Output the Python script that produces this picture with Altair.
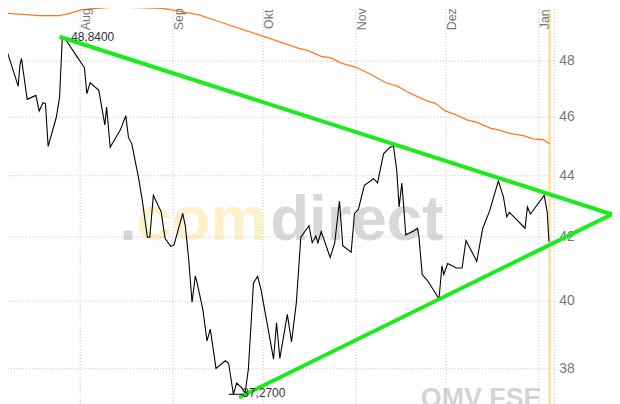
import altair as alt
import pandas as pd

# ---- data (x = days relative to 1 Aug, y = price) ----
price_day = [-24.5, -20.7, -20.1, -19.6, -17.7, -14.8, -13.7, -12.4, -11.6, -10.7,
             -8.0, -6.9, -6.0, -4.9, -0.8, 0.7, 1.4, 2.2, 3.3, 6.2,
             7.0, 8.2, 8.8, 10.0, 13.4, 15.2, 16.1, 17.2, 19.4, 20.7,
             22.4, 23.2, 24.4, 27.0, 28.3, 30.2, 31.3, 34.2, 35.1, 36.2,
             37.3, 38.4, 39.0, 40.9, 42.3, 43.4, 45.3, 48.4, 49.5, 51.1,
             52.2, 53.9, 55.0, 56.1, 57.8, 59.2, 60.3, 62.7, 64.5, 65.5,
             66.6, 69.1, 70.5, 72.1, 73.6, 76.3, 77.4, 78.6, 79.3, 80.4,
             83.4, 84.9, 86.5, 87.6, 90.4, 91.5, 92.8, 94.8, 97.9, 99.2,
             101.2, 103.1, 104.5, 105.6, 106.4, 107.3, 108.1, 108.6, 111.4, 112.5,
             113.0, 114.1, 115.8, 119.7, 120.7, 121.3, 122.6, 125.5, 127.4, 128.7,
             132.3, 134.3, 136.6, 139.5, 141.2, 142.3, 143.2, 148.4, 149.2, 150.2,
             154.8, 155.8, 156.4]
price_val = [48.39, 47.10, 47.88, 48.10, 46.63, 46.77, 46.22, 46.51, 46.48, 44.99,
             45.99, 46.69, 48.84, 48.80, 48.12, 47.88, 47.76, 46.83, 47.22, 46.95,
             46.46, 45.73, 46.36, 44.96, 45.56, 46.05, 45.30, 45.08, 43.96, 43.19,
             41.99, 41.99, 43.35, 42.81, 41.96, 41.70, 41.75, 42.76, 42.33, 41.28,
             39.97, 40.78, 40.56, 39.75, 38.81, 39.16, 38.01, 38.23, 38.16, 37.27,
             37.59, 37.45, 37.30, 37.99, 40.56, 40.76, 40.36, 39.16, 38.28, 39.35,
             38.30, 39.60, 38.78, 39.95, 41.99, 42.36, 41.82, 42.03, 41.81, 42.17,
             41.35, 41.81, 43.16, 41.72, 41.52, 42.76, 42.89, 43.68, 43.90, 43.76,
             44.74, 44.94, 45.02, 44.18, 42.97, 43.76, 42.76, 42.07, 42.20, 42.28,
             42.01, 40.82, 40.64, 40.07, 41.09, 40.82, 41.16, 41.02, 41.02, 41.89,
             41.23, 42.28, 42.84, 43.82, 43.30, 42.65, 42.79, 42.28, 42.97, 42.74,
             43.35, 42.81, 41.85]

ma_day = [-24.3, -13.5, -6.9, -3.5, 0.3, 5.3, 10.7, 16.3, 27.3, 30.6,
          39.6, 46.2, 52.8, 59.4, 66.1, 72.7, 76.0, 80.4, 83.6, 86.9,
          92.0, 95.9, 102.0, 105.8, 109.1, 111.4, 116.3, 118.5, 121.8, 125.2,
          129.0, 132.4, 136.8, 140.1, 143.4, 147.8, 151.1, 154.5, 156.6]
ma_val = [49.78, 49.69, 49.69, 49.78, 49.91, 49.97, 50.01, 50.00, 49.97, 49.91,
          49.72, 49.47, 49.22, 48.98, 48.73, 48.48, 48.39, 48.18, 48.12, 47.94,
          47.78, 47.58, 47.22, 47.10, 46.90, 46.78, 46.55, 46.49, 46.22, 46.09,
          45.91, 45.82, 45.62, 45.54, 45.44, 45.36, 45.25, 45.22, 45.08]

month_names = ["Aug", "Sep", "Okt", "Nov", "Dez", "Jan"]
month_day = [0, 31, 61, 92, 122, 153]
y_ticks = [38, 40, 42, 44, 46, 48]

upper_day = [-6.9, 177.4]
upper_val = [48.90, 42.73]
lower_day = [53.0, 177.4]
lower_val = [37.18, 42.73]

ann_text = ["48,8400", "37,2700"]
ann_day = [-6.0, 51.1]
ann_val = [48.84, 37.27]
low_tick_day = [49.5, 54.5]

today_day = 156.6
x_domain = [-24.1, 158.2]
y_domain = [36.92, 49.93]

wm_parts = [".", "com", "direct"]
wm_colors = ["#d6d6d6", "#fdf1cc", "#d8d8d8"]
wm2_text = "OMV FSE"

FONT = "Liberation Sans"
GRID = "#bdbdbd"

xs = alt.Scale(domain=x_domain, nice=False, zero=False)
ys = alt.Scale(type="log", domain=y_domain, nice=False)


def X(field):
    return alt.X(field, type="quantitative", scale=xs, axis=None)


def Y(field):
    return alt.Y(field, type="quantitative", scale=ys, axis=None)


# ---- watermark ----
wm_x = [112, 129, 264]
wm_layers = []
for part, col, px in zip(wm_parts, wm_colors, wm_x):
    wm_layers.append(
        alt.Chart(pd.DataFrame({"t": [part]})).mark_text(
            align="left", baseline="alphabetic", font=FONT, fontWeight="bold",
            fontSize=64, color=col
        ).encode(x=alt.value(px), y=alt.value(232), text=alt.Text("t", type="nominal"))
    )
wm2 = alt.Chart(pd.DataFrame({"t": [wm2_text]})).mark_text(
    align="right", baseline="alphabetic", font=FONT, fontWeight="bold",
    fontSize=27, color="#d4d4d4"
).encode(x=alt.value(537), y=alt.value(400), text=alt.Text("t", type="nominal"))

# ---- grid + right-hand labels ----
tick_df = pd.DataFrame({"v": y_ticks, "lab": [str(v) for v in y_ticks]})
hgrid = alt.Chart(tick_df).mark_rule(color=GRID, strokeDash=[1, 2], strokeWidth=1).encode(
    y=Y("v"), x=alt.value(0), x2=alt.value(550)
)
ylabels = alt.Chart(tick_df).mark_text(
    align="left", baseline="middle", font=FONT, fontSize=14, color="#777777", dx=0
).encode(y=Y("v"), x=alt.value(555), text=alt.Text("lab", type="nominal"))

month_df = pd.DataFrame({"day": month_day, "name": month_names})
vgrid = alt.Chart(month_df).mark_rule(color=GRID, strokeDash=[1, 2], strokeWidth=1).encode(
    x=X("day")
)
edge = alt.Chart(pd.DataFrame({"day": [x_domain[1]]})).mark_rule(
    color=GRID, strokeDash=[1, 2], strokeWidth=1).encode(x=X("day"))
today = alt.Chart(pd.DataFrame({"day": [today_day]})).mark_rule(
    color="#fce3a8", strokeWidth=3).encode(x=X("day"))

ma_df = pd.DataFrame({"day": ma_day, "val": ma_val})
ma = alt.Chart(ma_df).mark_line(color="#ff7a1e", strokeWidth=1.3).encode(
    x=X("day"), y=Y("val")
)

price_df = pd.DataFrame({"day": price_day, "val": price_val})
price = alt.Chart(price_df).mark_line(color="black", strokeWidth=1.1, clip=True).encode(
    x=X("day"), y=Y("val")
)

trend_df = pd.DataFrame({
    "day": upper_day + lower_day,
    "val": upper_val + lower_val,
    "seg": ["upper"] * 2 + ["lower"] * 2,
})
trend = alt.Chart(trend_df).mark_line(color="#1aeb1a", strokeWidth=4, clip=False,
                                      strokeCap="butt").encode(
    x=X("day"), y=Y("val"), detail=alt.Detail("seg", type="nominal")
)

mark_df = pd.DataFrame({"d1": [low_tick_day[0]], "d2": [low_tick_day[1]], "val": [ann_val[1]]})
low_tick = alt.Chart(mark_df).mark_rule(color="black", strokeWidth=1).encode(
    x=X("d1"), x2=alt.X2("d2"), y=Y("val")
)

ann_df = pd.DataFrame({"day": ann_day, "val": ann_val, "t": ann_text})
ann = alt.Chart(ann_df).mark_text(
    align="left", baseline="middle", dx=9, dy=-1, font=FONT, fontSize=12, color="#333333"
).encode(x=X("day"), y=Y("val"), text=alt.Text("t", type="nominal"))

mlabels = alt.Chart(month_df).mark_text(
    angle=270, align="center", baseline="top", dx=1, font=FONT, fontSize=12.5,
    color="#777777"
).encode(x=X("day"), y=alt.value(11), text=alt.Text("name", type="nominal"))

chart = alt.layer(
    *wm_layers, wm2, hgrid, vgrid, edge, today, ylabels, ma, price, trend,
    low_tick, ann, mlabels
).properties(
    width=550, height=400,
    padding={"left": 0, "top": 0, "right": 58, "bottom": 0},
    autosize=alt.AutoSizeParams(type="none"),
    background="white",
).configure_view(stroke=None)

chart.save("out.html", embed_options={"renderer": "svg", "actions": False})
